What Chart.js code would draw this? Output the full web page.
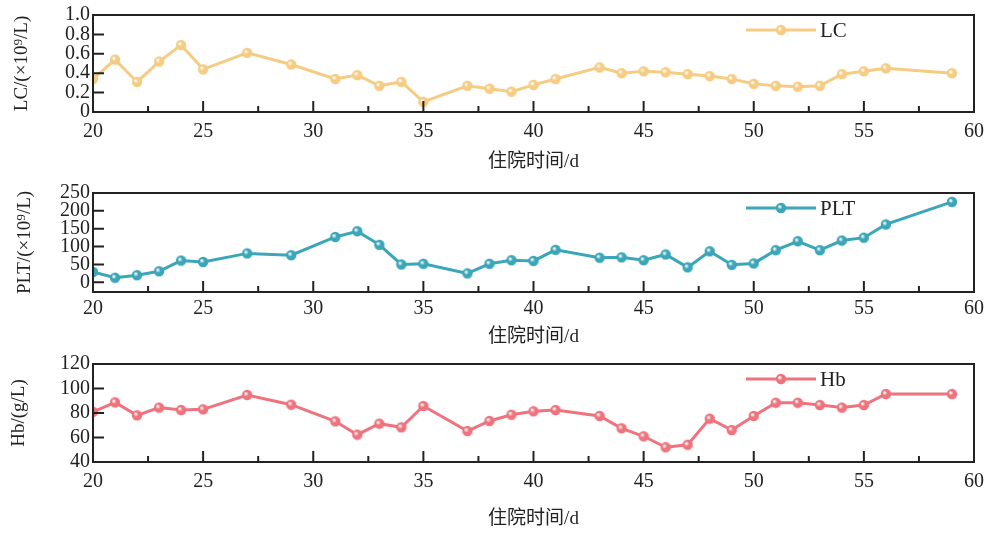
<!DOCTYPE html>
<html>
<head>
<meta charset="utf-8">
<script src="https://cdn.jsdelivr.net/npm/chart.js@4/dist/chart.umd.min.js"></script>
<style>
  html, body { margin: 0; padding: 0; background: #fff; }
  #wrap { position: relative; width: 988px; height: 534px; }
  .panel { position: absolute; left: 0; width: 988px; }
</style>
</head>
<body>
<div id="wrap">
  <div class="panel" style="top:0"><canvas id="lcChart" width="988" height="175"></canvas></div>
  <div class="panel" style="top:175px"><canvas id="pltChart" width="988" height="175"></canvas></div>
  <div class="panel" style="top:345px"><canvas id="hbChart" width="988" height="187"></canvas></div>
</div>
<script>
// 住院天数
const days = [20, 21, 22, 23, 24, 25, 27, 29, 31, 32, 33, 34, 35, 37, 38, 39, 40, 41,
  43, 44, 45, 46, 47, 48, 49, 50, 51, 52, 53, 54, 55, 56, 59];

const lcValues = [0.34, 0.54, 0.31, 0.52, 0.69, 0.44, 0.61, 0.49, 0.34, 0.38, 0.27, 0.31, 0.105,
  0.27, 0.24, 0.21, 0.28, 0.34, 0.46, 0.40, 0.42, 0.41, 0.39, 0.37, 0.34, 0.29, 0.27, 0.26,
  0.27, 0.39, 0.42, 0.45, 0.40];

const pltValues = [29, 13, 20, 31, 61, 57, 81, 76, 127, 143, 105, 50, 52,
  25, 52, 62, 60, 91, 69, 70, 62, 78, 42, 87, 49, 53, 90, 115, 90, 117, 125, 162, 225];

const hbValues = [81, 88.7, 78.1, 84.4, 82.4, 83, 94.7, 86.8, 73.2, 62.3, 71.3, 68.3, 85.7,
  65.3, 73.5, 78.6, 81.4, 82.4, 77.6, 67.5, 61, 52, 54.1, 75.4, 66.1, 77.6, 88.4, 88.4,
  86.5, 84.4, 86.5, 95.5, 95.5];

const xTicks = [20, 25, 30, 35, 40, 45, 50, 55, 60];
const lcTicks = [0, 0.2, 0.4, 0.6, 0.8, 1.0];
const pltTicks = [0, 50, 100, 150, 200, 250];
const hbTicks = [40, 60, 80, 100, 120];

const FONT = "'Liberation Serif', 'Noto Sans CJK SC', serif";
const INK = '#222';

// 带高光的小球标记
function sphere(color){
  const c = document.createElement('canvas');
  c.width = 12; c.height = 12;
  const g = c.getContext('2d');
  const grad = g.createRadialGradient(4.5, 4.5, 0.5, 6, 6, 6);
  grad.addColorStop(0, '#ffffff');
  grad.addColorStop(0.35, color);
  grad.addColorStop(1, color);
  g.fillStyle = grad;
  g.beginPath();
  g.arc(6, 6, 5.2, 0, Math.PI * 2);
  g.fill();
  return c;
}

const framePlugin = {
  id: 'frame',
  afterDatasetsDraw(chart, args, opts){
    const {ctx, chartArea: a, scales: {x, y}} = chart;
    ctx.save();
    ctx.strokeStyle = INK;
    ctx.lineWidth = 2;
    ctx.strokeRect(a.left, a.top, a.right - a.left, a.bottom - a.top);
    ctx.beginPath();
    for (let v = 20; v <= 60; v += 2.5) {
      const px = x.getPixelForValue(v);
      const len = v % 5 === 0 ? 11 : 6;
      ctx.moveTo(px, a.bottom);
      ctx.lineTo(px, a.bottom - len);
    }
    opts.yTicks.forEach(v => {
      const py = y.getPixelForValue(v);
      ctx.moveTo(a.left, py);
      ctx.lineTo(a.left + 11, py);
    });
    ctx.stroke();

    // 图例
    const ds = chart.data.datasets[0];
    const ly = a.top + opts.legendDy;
    ctx.strokeStyle = ds.borderColor;
    ctx.lineWidth = 3;
    ctx.beginPath();
    ctx.moveTo(746, ly);
    ctx.lineTo(816, ly);
    ctx.stroke();
    ctx.drawImage(ds.pointStyle, 781 - 6, ly - 6);
    ctx.fillStyle = INK;
    ctx.font = '21px ' + FONT;
    ctx.textBaseline = 'middle';
    ctx.fillText(ds.label, 820, ly + 1);
    ctx.restore();
  }
};

function makeChart(id, cfg){
  const marker = sphere(cfg.color);
  return new Chart(document.getElementById(id), {
    type: 'line',
    data: {
      datasets: [{
        label: cfg.label,
        data: days.map((d, i) => ({x: d, y: cfg.values[i]})),
        borderColor: cfg.color,
        borderWidth: 3,
        tension: 0,
        pointStyle: marker,
        pointRadius: 5
      }]
    },
    options: {
      responsive: false,
      animation: false,
      layout: { padding: { top: cfg.padTop, right: 14, left: 0, bottom: 0 } },
      plugins: {
        legend: { display: false },
        tooltip: { enabled: false },
        frame: { yTicks: cfg.yTicks, legendDy: cfg.legendDy }
      },
      scales: {
        x: {
          type: 'linear',
          min: 20, max: 60,
          afterBuildTicks: s => { s.ticks = xTicks.map(v => ({value: v})); },
          afterFit: s => { s.height = cfg.xHeight; s.paddingRight = 14; s.paddingLeft = 0; },
          grid: { display: false, drawTicks: false },
          border: { display: false },
          ticks: { color: INK, font: { family: FONT, size: 20 }, padding: cfg.tickPad, maxRotation: 0, autoSkip: false },
          title: { display: true, text: '住院时间/d', color: INK, font: { family: FONT, size: 19 }, padding: { top: 0, bottom: 2 } }
        },
        y: {
          min: cfg.yMin, max: cfg.yMax,
          afterBuildTicks: s => { s.ticks = cfg.yTicks.map(v => ({value: v})); },
          afterFit: s => { s.width = 93; },
          grid: { display: false, drawTicks: false },
          border: { display: false },
          ticks: { color: INK, font: { family: FONT, size: 20 }, padding: 3, autoSkip: false, callback: cfg.fmt },
          title: { display: true, text: cfg.yTitle, color: INK, font: { family: FONT, size: 19 }, padding: { top: cfg.titlePad, bottom: 0 } }
        }
      }
    },
    plugins: [framePlugin]
  });
}

makeChart('lcChart', {
  label: 'LC', values: lcValues, color: '#F5CC82', yMin: 0, yMax: 1, yTicks: lcTicks,
  yTitle: 'LC/(×10⁹/L)', fmt: v => v === 0 ? '0' : v.toFixed(1),
  legendDy: 15, padTop: 14, xHeight: 63, tickPad: 8, titlePad: 11
});
makeChart('pltChart', {
  label: 'PLT', values: pltValues, color: '#3AA6B8', yMin: -27, yMax: 250, yTicks: pltTicks,
  yTitle: 'PLT/(×10⁹/L)', fmt: v => String(v),
  legendDy: 15, padTop: 18, xHeight: 58, tickPad: 5, titlePad: 14
});
makeChart('hbChart', {
  label: 'Hb', values: hbValues, color: '#EF737D', yMin: 40, yMax: 120, yTicks: hbTicks,
  yTitle: 'Hb/(g/L)', fmt: v => String(v),
  legendDy: 15, padTop: 19, xHeight: 70, tickPad: 8, titlePad: 8
});
</script>
</body>
</html>
